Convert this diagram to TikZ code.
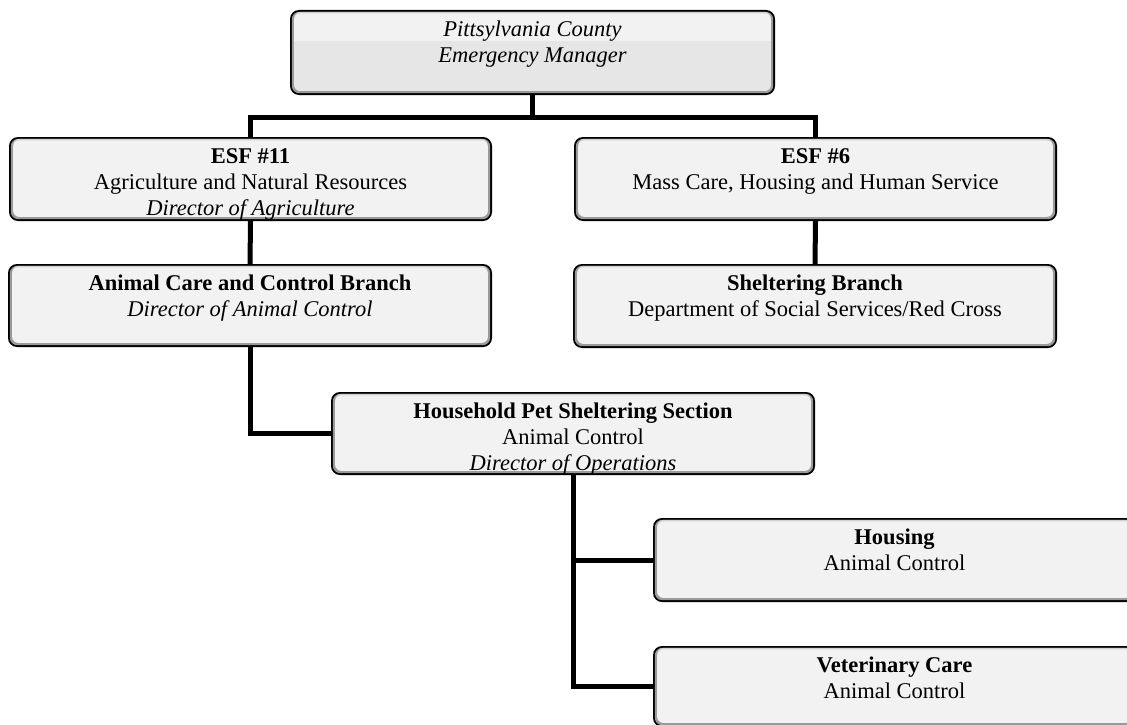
\documentclass[tikz,border=0pt]{standalone}
\usepackage{fontspec}
\setmainfont{Liberation Serif}
\usetikzlibrary{calc}

\definecolor{boxfill}{HTML}{F2F2F2}
\definecolor{boxlow}{HTML}{E6E6E6}
\definecolor{bevel}{HTML}{9A9A9A}
\definecolor{bevelhi}{HTML}{D2D2D2}

% bevelled rounded box: x1 y1 x2 y2 (picture units, y grows downward)
\newcommand\boxshape[4]{%
  \fill[black,rounded corners=9pt] (#1,#2) rectangle (#3,#4);
  \fill[bevel,rounded corners=7.5pt] (#1+1.8,#2+1.8) rectangle (#3-1.8,#4-1.8);
  \fill[bevelhi,rounded corners=6.5pt] (#1+4.2,#2+1.8) rectangle (#3-4.2,#4-4.2);
  \fill[boxfill,rounded corners=6pt] (#1+4.2,#2+3.4) rectangle (#3-4.2,#4-4.2);
}
% invisible named node covering a box: name x1 y1 x2 y2
\newcommand\boxnode[5]{%
  \node[frame, minimum width={#4pt-#2pt}, minimum height={#5pt-#3pt}]
    (#1) at ({(#2+#4)/2},{(#3+#5)/2}) {};
}
% text block hanging from the top of a box
\newcommand\boxtext[2]{%
  \node[lbl] (#1-text) at ([yshift=-26.5pt]#1.north)
    {\begin{tabular}[t]{@{}c@{}}#2\end{tabular}};
}

\tikzset{
  frame/.style={rectangle, inner sep=0pt, outer sep=0pt},
  lbl/.style={anchor=base, inner sep=0pt,
    font=\fontsize{22.5pt}{26pt}\selectfont},
  conn/.style={line width=5pt, line join=miter, black},
}

\begin{document}
\begin{tikzpicture}[x=1pt, y=-1pt]
  \useasboundingbox (0,0) rectangle (1127,725);
  \fill[white] (0,0) rectangle (1127,725);

  % named box areas
  \boxnode{top}{290}{10}{775}{95}
  \boxnode{esf11}{9}{137}{492}{221}
  \boxnode{esf6}{574}{137}{1057}{221}
  \boxnode{animal}{8}{264}{492}{347}
  \boxnode{shelter}{573}{264}{1057}{348}
  \boxnode{pets}{331}{392}{815}{475}
  \boxnode{housing}{653}{518}{1136}{602}
  \boxnode{vet}{653}{646}{1136}{727}
  \coordinate (bus) at (0,117.5);

  % connectors
  \draw[conn] (top.south) -- (top.south |- bus);
  \draw[conn] (esf11.north) -- (esf11.north |- bus) -- (esf6.north |- bus) -- (esf6.north);
  \draw[conn] (esf11.south) -- (animal.north);
  \draw[conn] (esf6.south) -- (shelter.north);
  \draw[conn] (animal.south) |- (pets.west);
  \draw[conn] (pets.south) |- (vet.west);
  \draw[conn] (pets.south |- housing.west) -- (housing.west);

  % boxes
  \boxshape{290}{10}{775}{95}
  \fill[boxlow,rounded corners=6pt] (294.2,41) rectangle (770.8,90.8);
  \fill[boxlow] (294.2,41) rectangle (770.8,60);
  \boxshape{9}{137}{492}{221}
  \boxshape{574}{137}{1057}{221}
  \boxshape{8}{264}{492}{347}
  \boxshape{573}{264}{1057}{348}
  \boxshape{331}{392}{815}{475}
  \boxshape{653}{518}{1136}{602}
  \boxshape{653}{646}{1136}{727}

  % texts
  \boxtext{top}{\itshape Pittsylvania County\\\itshape Emergency Manager}
  \boxtext{esf11}{\bfseries ESF \#11\\Agriculture and Natural Resources\\\itshape Director of Agriculture}
  \boxtext{esf6}{\bfseries ESF \#6\\Mass Care, Housing and Human Service}
  \boxtext{animal}{\bfseries Animal Care and Control Branch\\\itshape Director of Animal Control}
  \boxtext{shelter}{\bfseries Sheltering Branch\\Department of Social Services/Red Cross}
  \boxtext{pets}{\bfseries Household Pet Sheltering Section\\Animal Control\\\itshape Director of Operations}
  \boxtext{housing}{\bfseries Housing\\Animal Control}
  \boxtext{vet}{\bfseries Veterinary Care\\Animal Control}
\end{tikzpicture}
\end{document}
